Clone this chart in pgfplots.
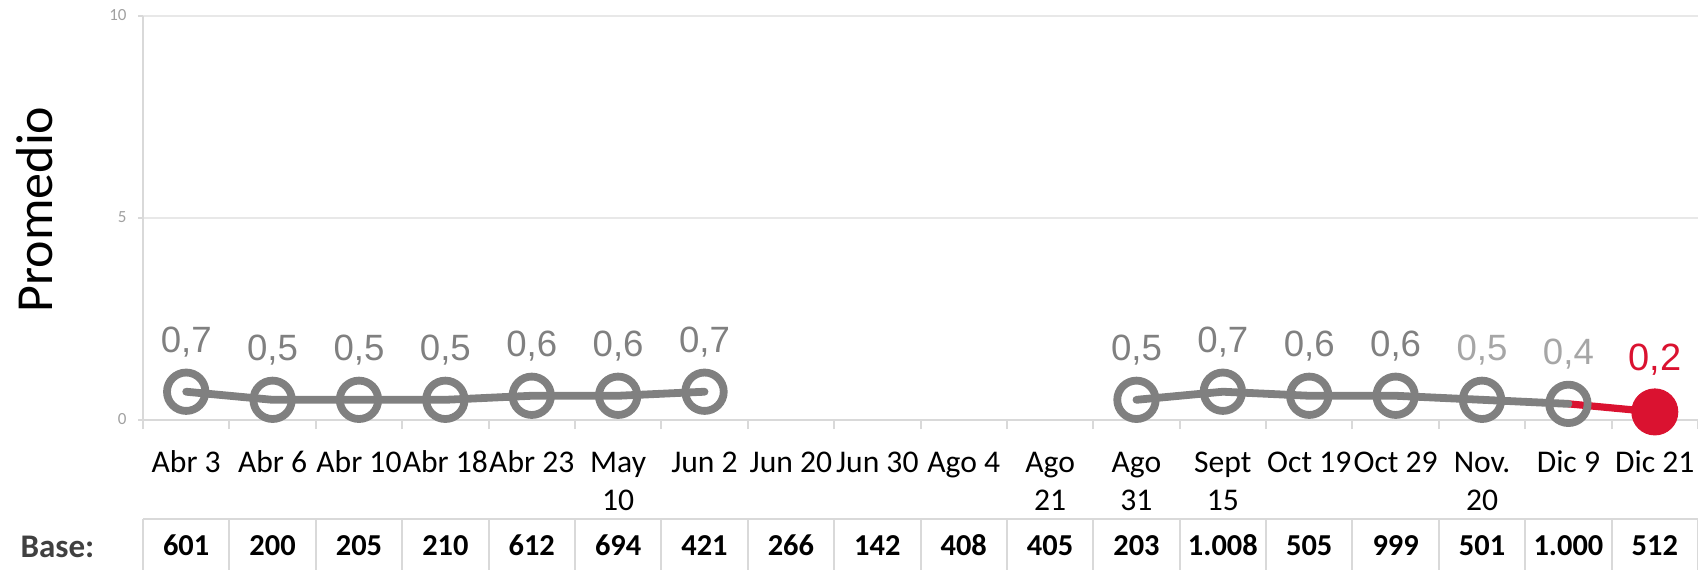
\documentclass[border=0pt]{standalone}
\usepackage{pgfplots}
\pgfplotsset{compat=1.18}
\usepackage{pgfplotstable}
\usepackage{fontspec}
\setmainfont{Carlito}
\newfontfamily\arialf{Liberation Sans}
\definecolor{sgray}{RGB}{128,128,128}
\definecolor{lgray}{RGB}{166,166,166}
\definecolor{sred}{RGB}{218,18,48}
\definecolor{axgray}{RGB}{217,217,217}
\definecolor{gridgray}{RGB}{232,232,232}
\definecolor{basegray}{RGB}{64,64,64}
\definecolor{tickgray}{RGB}{160,160,160}

\pgfplotstableread{
x y
0 0.7
1 0.5
2 0.5
3 0.5
4 0.6
5 0.6
6 0.7
7 nan
8 nan
9 nan
10 nan
11 0.5
12 0.7
13 0.6
14 0.6
15 0.5
16 0.4
}\graydata

\pgfplotstableread{
x y
16 0.4
17 0.2
}\reddata

\pgfplotstableread{
x base
0 601
1 200
2 205
3 210
4 612
5 694
6 421
7 266
8 142
9 408
10 405
11 203
12 1.008
13 505
14 999
15 501
16 1.000
17 512
}\basedata

\begin{document}
\begin{tikzpicture}
\begin{axis}[
  at={(71.5pt,-210pt)}, anchor=south west,
  scale only axis, width=777.5pt, height=202pt,
  xmin=-0.5, xmax=17.5, ymin=0, ymax=10,
  clip=false,
  unbounded coords=jump,
  axis x line*=bottom, axis y line*=left,
  axis line style={axgray, line width=1pt, -},
  xtick={0,...,17},
  xticklabels={Abr 3,Abr 6,Abr 10,Abr 18,Abr 23,{May\\10},Jun 2,Jun 20,Jun 30,Ago 4,{Ago\\21},{Ago\\31},{Sept\\15},Oct 19,Oct 29,{Nov.\\20},Dic 9,Dic 21},
  minor xtick={-0.5,0.5,...,17.5},
  ytick={0,5,10},
  tick align=outside,
  major tick length=2.5pt,
  minor tick length=4.5pt,
  major x tick style={draw=none},
  minor x tick style={axgray, line width=1pt},
  major y tick style={axgray, line width=1pt},
  ymajorgrids,
  major grid style={gridgray, line width=1pt},
  xticklabel style={font=\fontsize{15.8}{19}\selectfont, align=center, anchor=north, inner sep=0pt, yshift=-10.2pt},
  typeset ticklabels with strut,
  yticklabel style={font=\fontsize{8.5}{10}\selectfont, text=tickgray, anchor=east, inner sep=0pt, xshift=-5.5pt, /pgf/number format/assume math mode=true},
  nodes near coords align={anchor=base},
]
% red segment
\addplot[sred, line width=3.6pt, line cap=round, mark=none] table[x=x,y=y] {\reddata};
% gray series
\addplot[sgray, line width=3.9pt, line cap=round, line join=round, mark=o, mark size=9.6pt, mark options={line width=3.9pt, sgray, solid}] table[x=x,y=y] {\graydata};
% red marker
\addplot[only marks, mark=*, mark size=11.5pt, mark options={fill=sred, draw=sred, line width=0.5pt}, restrict x to domain=17:17] table[x=x,y=y] {\reddata};
% labels
\addplot[draw=none, mark=none, restrict x to domain=0:14, point meta=y,
  nodes near coords={\pgfmathprintnumber[fixed,fixed zerofill,precision=1,use comma,assume math mode=true]{\pgfplotspointmeta}},
  nodes near coords style={text=sgray, font=\arialf\fontsize{18.3}{20}\selectfont, inner sep=0pt, yshift=19.5pt}] table[x=x,y=y] {\graydata};
\addplot[draw=none, mark=none, restrict x to domain=15:16, point meta=y,
  nodes near coords={\pgfmathprintnumber[fixed,fixed zerofill,precision=1,use comma,assume math mode=true]{\pgfplotspointmeta}},
  nodes near coords style={text=lgray, font=\arialf\fontsize{18.3}{20}\selectfont, inner sep=0pt, yshift=19.5pt}] table[x=x,y=y] {\graydata};
\addplot[draw=none, mark=none, restrict x to domain=17:17, point meta=y,
  nodes near coords={\pgfmathprintnumber[fixed,fixed zerofill,precision=1,use comma,assume math mode=true]{\pgfplotspointmeta}},
  nodes near coords style={text=sred, font=\arialf\fontsize{19}{21}\selectfont, inner sep=0pt, yshift=20.5pt}] table[x=x,y=y] {\reddata};
% base table
\draw[axgray, line width=1pt] (axis cs:-0.5,-2.45) -- (axis cs:17.5,-2.45);
\pgfplotsinvokeforeach{-0.5,0.5,...,17.5}{
  \draw[axgray, line width=1pt] (axis cs:#1,-2.45) -- (axis cs:#1,-3.8);
}
\addplot[draw=none, mark=none, point meta=explicit symbolic, nodes near coords,
  nodes near coords style={text=black, font=\bfseries\fontsize{15.2}{17}\selectfont, inner sep=0pt}] table[x=x, y expr=-3.366, meta=base] {\basedata};
\end{axis}
\node[rotate=90, anchor=base, font=\fontsize{26}{30}\selectfont] at (26pt,-104.75pt) {Promedio};
\node[anchor=base, font=\bfseries\fontsize{16.5}{19}\selectfont, text=basegray] at (28.75pt,-278.5pt) {Base:};
\pgfresetboundingbox
\path[use as bounding box] (0,0) rectangle (849pt,-284.5pt);
\end{tikzpicture}
\end{document}
